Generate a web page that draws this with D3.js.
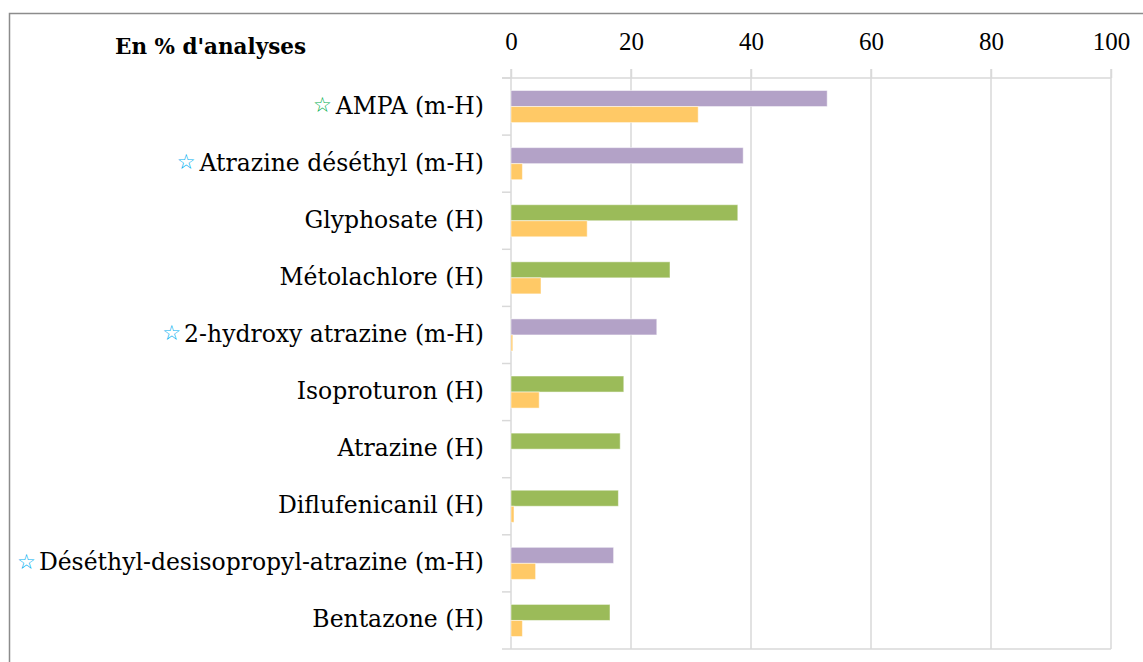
<!DOCTYPE html>
<html>
<head>
<meta charset="utf-8">
<script src="https://cdn.jsdelivr.net/npm/d3@7"></script>
<style>
  body { margin: 0; background: #fff; }
  svg { display: block; }
</style>
</head>
<body>
<script>
(function() {
    var w = 1143;
    var h = 662;

    // data
    var substances = ["AMPA (m-H)", "Atrazine déséthyl (m-H)", "Glyphosate (H)", "Métolachlore (H)",
        "2-hydroxy atrazine (m-H)", "Isoproturon (H)", "Atrazine (H)", "Diflufenicanil (H)",
        "Déséthyl-desisopropyl-atrazine (m-H)", "Bentazone (H)"];
    var types = ["m-H", "m-H", "H", "H", "m-H", "H", "H", "H", "m-H", "H"];
    var stars = ["green", "blue", "", "", "blue", "", "", "", "blue", ""];
    var quantif = [52.7, 38.7, 37.8, 26.5, 24.3, 18.8, 18.2, 17.9, 17.1, 16.5];
    var depass = [31.2, 1.9, 12.7, 5.0, 0.3, 4.7, 0, 0.5, 4.1, 1.9];
    var xTicks = [0, 20, 40, 60, 80, 100];

    var typeColor = { "m-H": "#b3a2c7", "H": "#9bbb59" };
    var starColor = { green: "#00b050", blue: "#00b0f0" };
    var orange = "#ffc966";

    var left = 511, right = 1111, top = 78, bottom = 649;

    var svg = d3.select("body").append("svg")
        .attr("width", w)
        .attr("height", h);

    // frame
    svg.append("path")
        .attr("d", "M9.5," + h + "V13.5H" + w)
        .attr("fill", "none")
        .attr("stroke", "#8c8c8c")
        .attr("stroke-width", 1.5);

    var x = d3.scaleLinear().domain([0, 100]).range([left, right]);
    var y = d3.scaleBand().domain(substances).range([top, bottom]);
    var inner = d3.scaleBand().domain(["q", "d"]).range([0, y.bandwidth()]).paddingOuter(0.78).paddingInner(0);

    // gridlines
    svg.append("g")
        .selectAll("line")
        .data(xTicks.slice(1))
        .enter()
        .append("line")
        .attr("x1", function(d) { return x(d); })
        .attr("x2", function(d) { return x(d); })
        .attr("y1", top - 9)
        .attr("y2", bottom)
        .attr("stroke", "#d9d9d9")
        .attr("stroke-width", 1.5);

    // top axis
    var xAxis = svg.append("g")
        .attr("transform", "translate(0," + top + ")")
        .call(d3.axisTop(x).tickValues(xTicks).tickSize(9).tickPadding(19));
    xAxis.select(".domain")
        .attr("d", "M" + (left - 9) + ",0H" + right)
        .attr("stroke", "#d9d9d9")
        .attr("stroke-width", 1.5);
    xAxis.selectAll(".tick line").attr("stroke", "#d9d9d9").attr("stroke-width", 1.5);
    xAxis.selectAll(".tick text")
        .attr("font-family", "'Liberation Serif', serif")
        .attr("font-size", 25)
        .attr("fill", "#000");

    // bottom line
    svg.append("line")
        .attr("x1", left - 9).attr("x2", right)
        .attr("y1", bottom).attr("y2", bottom)
        .attr("stroke", "#d9d9d9").attr("stroke-width", 1.5);

    // category axis line and ticks
    svg.append("line")
        .attr("x1", left).attr("x2", left)
        .attr("y1", top - 9).attr("y2", bottom)
        .attr("stroke", "#d9d9d9").attr("stroke-width", 1.5);
    svg.append("g")
        .selectAll("line")
        .data(substances)
        .enter()
        .append("line")
        .attr("x1", left - 9).attr("x2", left)
        .attr("y1", function(d) { return y(d); })
        .attr("y2", function(d) { return y(d); })
        .attr("stroke", "#d9d9d9").attr("stroke-width", 1.5);

    // bars
    var rows = svg.append("g")
        .selectAll("g")
        .data(substances)
        .enter()
        .append("g")
        .attr("transform", function(d) { return "translate(0," + y(d) + ")"; });

    rows.append("rect")
        .attr("x", x(0))
        .attr("y", inner("q"))
        .attr("height", inner.bandwidth())
        .attr("width", function(d, i) { return x(quantif[i]) - x(0); })
        .attr("fill", function(d, i) { return typeColor[types[i]]; })
        .attr("stroke", "rgba(255,255,255,0.5)")
        .attr("stroke-width", 1);

    rows.append("rect")
        .attr("x", x(0))
        .attr("y", inner("d"))
        .attr("height", inner.bandwidth())
        .attr("width", function(d, i) { return x(depass[i]) - x(0); })
        .attr("fill", orange)
        .attr("stroke", "rgba(255,255,255,0.5)")
        .attr("stroke-width", 1);

    // category labels
    var labels = rows.append("text")
        .attr("x", 484)
        .attr("y", y.bandwidth() / 2)
        .attr("dy", "0.3em")
        .attr("text-anchor", "end")
        .attr("font-family", "'DejaVu Serif', serif")
        .attr("font-size", 23.5)
        .attr("fill", "#000")
        .text(function(d) { return d; });

    // stars
    labels.each(function(d, i) {
        if (!stars[i]) return;
        var bb = this.getBBox();
        d3.select(this.parentNode).append("text")
            .attr("x", bb.x - 3)
            .attr("y", y.bandwidth() / 2)
            .attr("dy", "0.25em")
            .attr("text-anchor", "end")
            .attr("font-family", "'DejaVu Sans', sans-serif")
            .attr("font-size", 21)
            .attr("fill", starColor[stars[i]])
            .text("☆");
    });

    // title
    svg.append("text")
        .attr("x", 115)
        .attr("y", 54)
        .attr("font-family", "'DejaVu Serif', serif")
        .attr("font-weight", "bold")
        .attr("font-size", 21.5)
        .attr("fill", "#000")
        .text("En % d'analyses");
})();
</script>
</body>
</html>
